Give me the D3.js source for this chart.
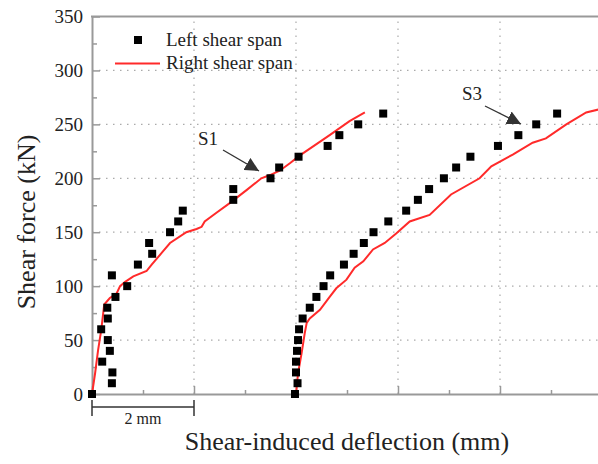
<!DOCTYPE html>
<html><head><meta charset="utf-8">
<script src="https://cdn.jsdelivr.net/npm/d3@7/dist/d3.min.js"></script>
<style>html,body{margin:0;padding:0;background:#fff;overflow:hidden}</style>
</head><body><svg id="c" width="598" height="464"></svg>
<script>
// S1 specimen (left shear span squares)
const s1Force = [0,10,20,30,40,50,60,70,80,90,100,110,120,130,140,150,160,170,180,190,200,210,220,230,240,250,260];
const s1Defl  = [0,0.39,0.40,0.20,0.35,0.31,0.18,0.31,0.30,0.46,0.69,0.39,0.90,1.18,1.12,1.53,1.69,1.78,2.77,2.77,3.50,3.67,4.05,4.62,4.85,5.22,5.71];
// S1 specimen (right shear span line)
const s1LineForce = [0,19,41,59,83,89,93,100,104,109,114,120,131,140,150,153,155,160,168,177,189,200,203,207,214,221,240,253,261];
const s1LineDefl  = [0,0.06,0.12,0.18,0.24,0.35,0.48,0.55,0.65,0.81,1.07,1.17,1.37,1.53,1.85,2.05,2.15,2.21,2.44,2.70,3.03,3.32,3.49,3.68,3.88,4.07,4.66,5.05,5.35];
// S3 specimen (left shear span squares)
const s3Force = [0,10,20,30,40,50,60,70,80,90,100,110,120,130,140,150,160,170,180,190,200,210,220,230,240,250,260];
const s3Defl  = [3.98,4.03,4.00,4.00,4.02,4.04,4.06,4.13,4.27,4.40,4.54,4.67,4.94,5.13,5.33,5.52,5.81,6.16,6.39,6.61,6.90,7.14,7.42,7.96,8.36,8.71,9.12];
// S3 specimen (right shear span line)
const s3LineForce = [0,19,38,56,66,70,78,90,98,106,117,123,134,140,149,160,166,185,200,211,222,233,237,250,261,264];
const s3LineDefl  = [4.00,4.04,4.11,4.17,4.21,4.27,4.47,4.66,4.79,4.99,5.15,5.32,5.51,5.74,5.97,6.23,6.62,7.04,7.60,7.83,8.25,8.64,8.90,9.30,9.69,9.95];
const yTicks = [0,50,100,150,200,250,300,350];
const xMajor = [0,2,4,6,8,10];
const legendLabels = ["Left shear span","Right shear span"];
const annotations = [{text:"S1", f:220, d:3.55}, {text:"S3", f:260, d:8.3}];

const svg = d3.select("#c");
const font = "'Liberation Serif','Times New Roman',serif";
const axisCol = "#999", textCol = "#222", red = "#ff2a2a";
const x = d3.scaleLinear().domain([0,10]).range([92,602]);
const y = d3.scaleLinear().domain([0,350]).range([394,16.5]);

// grid
const g = svg.append("g");
g.selectAll(".gy").data(yTicks.filter(v=>v>0&&v<350)).join("line")
  .attr("x1",92).attr("x2",602).attr("y1",d=>y(d)).attr("y2",d=>y(d))
  .attr("stroke","#aaa").attr("stroke-width",1.2).attr("stroke-dasharray","1.5,5.5");
g.selectAll(".gx").data(xMajor.filter(v=>v>0&&v<10)).join("line")
  .attr("y1",394).attr("y2",16.5).attr("x1",d=>x(d)).attr("x2",d=>x(d))
  .attr("stroke","#aaa").attr("stroke-width",1.2).attr("stroke-dasharray","1.5,5.5");

// axes
const yAxis = d3.axisLeft(y).tickValues(d3.range(0,351,25)).tickSize(-8).tickSizeOuter(0)
  .tickFormat(d=> d%50===0 ? d : "");
const ya = svg.append("g").attr("transform","translate(92,0)").call(yAxis);
ya.selectAll(".tick line").attr("x2",d=>d%50===0?8:5);
const xAxis = d3.axisBottom(x).ticks(10).tickSize(-8).tickSizeOuter(0).tickFormat("");
const xa = svg.append("g").attr("transform","translate(0,394)").call(xAxis);
xa.selectAll(".tick line").attr("y2",d=>d%2===0?-8:-4);
[ya,xa].forEach(a=>{
  a.select(".domain").attr("stroke",axisCol).attr("stroke-width",2);
  a.selectAll(".tick line").attr("stroke",axisCol).attr("stroke-width",1.5);
  a.selectAll("text").attr("font-family",font).attr("font-size",19).attr("fill",textCol);
});
ya.selectAll("text").attr("x",-9);
svg.append("line").attr("x1",91).attr("x2",602).attr("y1",y(350)).attr("y2",y(350))
  .attr("stroke",axisCol).attr("stroke-width",2);

// lines
const line = d3.line().x(d=>x(d[0])).y(d=>y(d[1]));
[[s1LineDefl,s1LineForce],[s3LineDefl,s3LineForce]].forEach(([dx,fy])=>{
  svg.append("path").datum(dx.map((v,i)=>[v,fy[i]])).attr("d",line)
    .attr("fill","none").attr("stroke",red).attr("stroke-width",2);
});
// squares
const sq = 8;
[[s1Defl,s1Force],[s3Defl,s3Force]].forEach(([dx,fy])=>{
  svg.append("g").selectAll("rect").data(dx.map((v,i)=>[v,fy[i]])).join("rect")
    .attr("x",d=>x(d[0])-sq/2).attr("y",d=>y(d[1])-sq/2).attr("width",sq).attr("height",sq)
    .attr("fill","#000");
});

// annotations
const defs = svg.append("defs");
defs.append("marker").attr("id","ah").attr("viewBox","0 0 10 10").attr("refX",10).attr("refY",5)
  .attr("markerWidth",14).attr("markerHeight",14).attr("markerUnits","userSpaceOnUse").attr("orient","auto")
  .append("path").attr("d","M0,0L10,5L0,10Z").attr("fill","#333");
const ann = [
  {t:annotations[0].text, tx:208, ty:145, x1:223, y1:150, x2:259, y2:171},
  {t:annotations[1].text, tx:472, ty:100, x1:485, y1:106, x2:521, y2:124}
];
ann.forEach(a=>{
  svg.append("text").attr("x",a.tx).attr("y",a.ty).attr("text-anchor","middle")
    .attr("font-family",font).attr("font-size",19).attr("fill",textCol).text(a.t);
  svg.append("line").attr("x1",a.x1).attr("y1",a.y1).attr("x2",a.x2).attr("y2",a.y2)
    .attr("stroke","#333").attr("stroke-width",1.3).attr("marker-end","url(#ah)");
});

// legend
svg.append("rect").attr("x",134).attr("y",36).attr("width",8).attr("height",8).attr("fill","#000");
svg.append("line").attr("x1",115).attr("x2",160).attr("y1",63.5).attr("y2",63.5).attr("stroke",red).attr("stroke-width",2);
legendLabels.forEach((t,i)=>{
  svg.append("text").attr("x",166).attr("y",46+i*23).attr("font-family",font).attr("font-size",19)
    .attr("fill",textCol).text(t);
});

// scale bar
const sb = svg.append("g").attr("stroke","#333").attr("stroke-width",1.5);
sb.append("line").attr("x1",x(0)).attr("x2",x(2)).attr("y1",407).attr("y2",407);
sb.append("line").attr("x1",x(0)).attr("x2",x(0)).attr("y1",400).attr("y2",416);
sb.append("line").attr("x1",x(2)).attr("x2",x(2)).attr("y1",400).attr("y2",416);
svg.append("text").attr("x",(x(0)+x(2))/2).attr("y",424).attr("text-anchor","middle")
  .attr("font-family",font).attr("font-size",16).attr("fill",textCol).text("2 mm");

// axis titles
svg.append("text").attr("x",347).attr("y",450).attr("text-anchor","middle")
  .attr("font-family",font).attr("font-size",26).attr("fill",textCol).text("Shear-induced deflection (mm)");
svg.append("text").attr("transform","translate(35,222) rotate(-90)").attr("text-anchor","middle")
  .attr("font-family",font).attr("font-size",26).attr("fill",textCol).text("Shear force (kN)");
</script></body></html>
